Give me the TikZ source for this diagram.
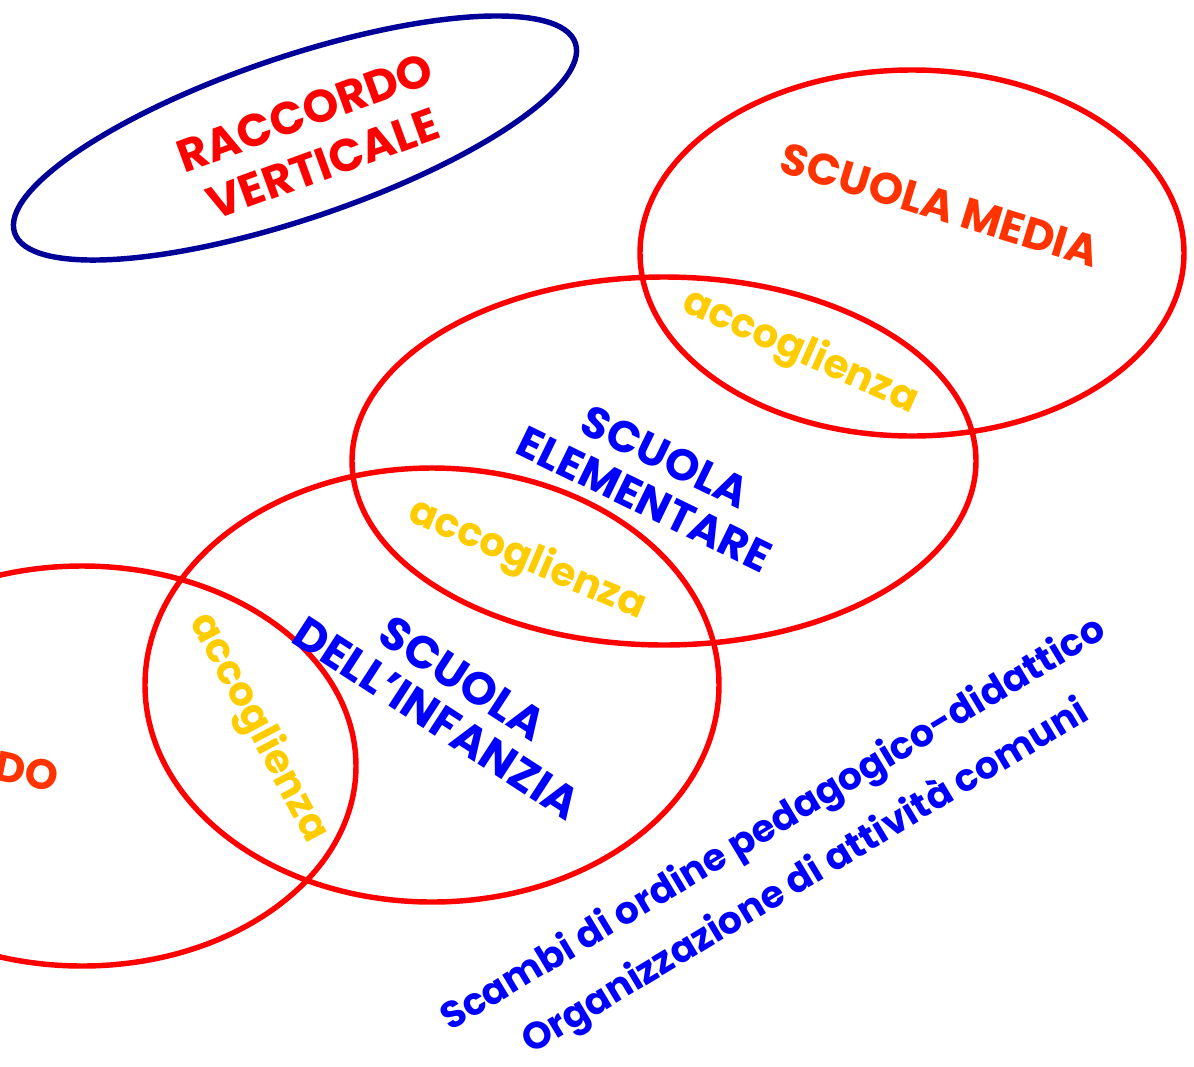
\documentclass[tikz,border=0pt]{standalone}
\usepackage{fontspec}
\setmainfont{Poppins}
\usepackage{tikz}
\usetikzlibrary{positioning}
\definecolor{ringred}{RGB}{255,0,0}
\definecolor{ringnavy}{RGB}{0,0,153}
\definecolor{mediaorange}{RGB}{255,51,0}
\definecolor{welcomeyellow}{RGB}{255,204,0}
\definecolor{schoolblue}{RGB}{0,0,255}
\tikzstyle{ring}=[draw=ringred, line width=3.1pt]
\tikzstyle{navyring}=[draw=ringnavy, line width=3.1pt]
\tikzstyle{welcome}=[text=welcomeyellow, inner sep=0pt, font=\fontsize{23}{24}\selectfont\bfseries]
\tikzstyle{school}=[text=schoolblue, inner sep=0pt, align=center, font=\fontsize{25}{27}\selectfont\bfseries]
\tikzstyle{title}=[inner sep=0pt, align=center, font=\fontsize{26}{31}\selectfont\bfseries]
\tikzstyle{note}=[text=schoolblue, inner sep=0pt, align=center, font=\fontsize{21.5}{35}\selectfont\bfseries]

\begin{document}
\begin{tikzpicture}[x=0.02cm, y=-0.02cm]
	\useasboundingbox (0,0) rectangle (1194,1066);
	\draw[navyring, rotate around={18.7:(295,138)}] (295,138) ellipse (296 and 81);
	\draw[ring] (912,253) ellipse (272 and 183);
	\draw[ring] (664,461) ellipse (312 and 184);
	\draw[ring] (432,685) ellipse (287 and 217);
	\draw[ring] (82,766) ellipse (274 and 200);
	\node[title, text=ringred, rotate=20] (raccordo) at (314,138) {RACCORDO\\VERTICALE};
	\node[title, text=mediaorange, rotate=-17, font=\fontsize{25}{26}\selectfont\bfseries] (media) at (940,205) {SCUOLA MEDIA};
	\node[welcome, rotate=-24] (accmedia) at (800,352) {accoglienza};
	\node[school, rotate=-26] (elementare) at (655,478) {SCUOLA\\ELEMENTARE};
	\node[welcome, rotate=-23] (accelem) at (527,560) {accoglienza};
	\node[school, rotate=-33, font=\fontsize{26}{27}\selectfont\bfseries] (infanzia) at (450,698) {SCUOLA\\DELL'INFANZIA};
	\node[welcome, rotate=-62] (accinf) at (258,728) {accoglienza};
	\node[title, text=mediaorange, rotate=-12, anchor=east, font=\fontsize{24}{26}\selectfont\bfseries] (nido) at (58,778) {DO};
	\node[note, rotate=31] (scambi) at (790,852) {Scambi di ordine pedagogico-didattico\\Organizzazione di attività comuni};
\end{tikzpicture}
\end{document}
